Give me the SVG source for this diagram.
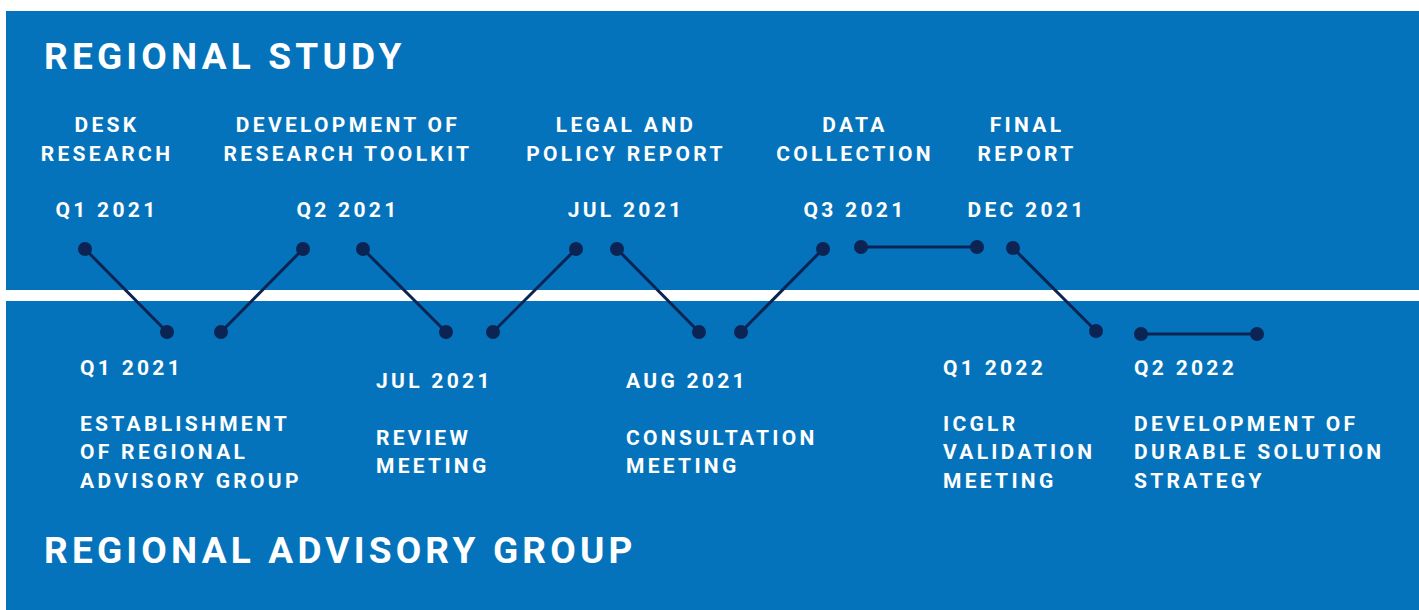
<svg xmlns="http://www.w3.org/2000/svg" width="1419" height="610" viewBox="0 0 1419 610">
<style>
.bg{fill:#0573BB}
.t{font-family:Roboto,"Liberation Sans",sans-serif;font-weight:700;fill:#ffffff}
.title{font-size:37px;letter-spacing:4.2px}
.lbl{font-size:21px;letter-spacing:3.3px}
.c{text-anchor:middle}
.ln{stroke:#0C2453;stroke-width:3;fill:none}
.dot{fill:#0C2453}
</style>
<rect width="1419" height="610" fill="#ffffff"/>
<rect class="bg" x="6" y="11" width="1413" height="279"/>
<rect class="bg" x="6" y="301" width="1413" height="309"/>

<g id="header-study"><text class="t title" x="44" y="69">REGIONAL STUDY</text></g>
<g id="header-advisory"><text class="t title" x="44" y="563">REGIONAL ADVISORY GROUP</text></g>

<g id="connectors">
<line class="ln" x1="85" y1="249" x2="167" y2="332"/>
<line class="ln" x1="221" y1="332" x2="303" y2="249"/>
<line class="ln" x1="363" y1="249" x2="446" y2="332"/>
<line class="ln" x1="493" y1="332" x2="576" y2="249"/>
<line class="ln" x1="617" y1="249" x2="699" y2="332"/>
<line class="ln" x1="741" y1="332" x2="823" y2="249"/>
<line class="ln" x1="861" y1="247" x2="977" y2="247"/>
<line class="ln" x1="1013" y1="248" x2="1096" y2="331"/>
<line class="ln" x1="1141" y1="334" x2="1257" y2="334"/>
</g>
<g id="dots">
<circle class="dot" cx="85" cy="249" r="7"/><circle class="dot" cx="167" cy="332" r="7"/>
<circle class="dot" cx="221" cy="332" r="7"/><circle class="dot" cx="303" cy="249" r="7"/>
<circle class="dot" cx="363" cy="249" r="7"/><circle class="dot" cx="446" cy="332" r="7"/>
<circle class="dot" cx="493" cy="332" r="7"/><circle class="dot" cx="576" cy="249" r="7"/>
<circle class="dot" cx="617" cy="249" r="7"/><circle class="dot" cx="699" cy="332" r="7"/>
<circle class="dot" cx="741" cy="332" r="7"/><circle class="dot" cx="823" cy="249" r="7"/>
<circle class="dot" cx="861" cy="247" r="7"/><circle class="dot" cx="977" cy="247" r="7"/>
<circle class="dot" cx="1013" cy="248" r="7"/><circle class="dot" cx="1096" cy="331" r="7"/>
<circle class="dot" cx="1141" cy="334" r="7"/><circle class="dot" cx="1257" cy="334" r="7"/>
</g>

<g id="desk-research" class="t lbl c">
<text x="107" y="132">DESK</text><text x="107" y="161">RESEARCH</text><text x="107" y="217">Q1 2021</text>
</g>
<g id="research-toolkit" class="t lbl c">
<text x="348" y="132">DEVELOPMENT OF</text><text x="348" y="161">RESEARCH TOOLKIT</text><text x="348" y="217">Q2 2021</text>
</g>
<g id="legal-policy" class="t lbl c">
<text x="626" y="132">LEGAL AND</text><text x="626" y="161">POLICY REPORT</text><text x="626" y="217">JUL 2021</text>
</g>
<g id="data-collection" class="t lbl c">
<text x="855" y="132">DATA</text><text x="855" y="161">COLLECTION</text><text x="855" y="217">Q3 2021</text>
</g>
<g id="final-report" class="t lbl c">
<text x="1027" y="132">FINAL</text><text x="1027" y="161">REPORT</text><text x="1027" y="217">DEC 2021</text>
</g>

<g id="establishment" class="t lbl">
<text x="80" y="375">Q1 2021</text>
<text x="80" y="431">ESTABLISHMENT</text><text x="80" y="459">OF REGIONAL</text><text x="80" y="488">ADVISORY GROUP</text>
</g>
<g id="review-meeting" class="t lbl">
<text x="376" y="388">JUL 2021</text>
<text x="376" y="445">REVIEW</text><text x="376" y="473">MEETING</text>
</g>
<g id="consultation-meeting" class="t lbl">
<text x="626" y="388">AUG 2021</text>
<text x="626" y="445">CONSULTATION</text><text x="626" y="473">MEETING</text>
</g>
<g id="icglr-validation" class="t lbl">
<text x="943" y="375">Q1 2022</text>
<text x="943" y="431">ICGLR</text><text x="943" y="459">VALIDATION</text><text x="943" y="488">MEETING</text>
</g>
<g id="durable-solution" class="t lbl">
<text x="1134" y="375">Q2 2022</text>
<text x="1134" y="431">DEVELOPMENT OF</text><text x="1134" y="459">DURABLE SOLUTION</text><text x="1134" y="488">STRATEGY</text>
</g>
</svg>
